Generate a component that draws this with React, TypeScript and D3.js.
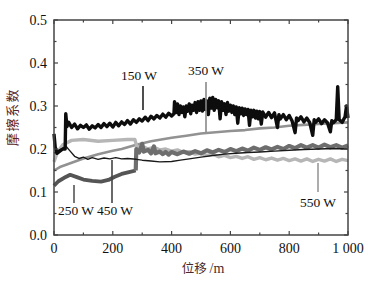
import React from "react";
import * as d3 from "d3";

const W = 374, H = 281;
const X_DOMAIN = [0, 1000];
const Y_DOMAIN = [0, 0.5];
const X_TICKS = [0, 200, 400, 600, 800, 1000];
const X_TICK_LABELS = ["0", "200", "400", "600", "800", "1 000"];
const Y_TICKS = [0, 0.1, 0.2, 0.3, 0.4, 0.5];
const Y_TICK_LABELS = ["0.0", "0.1", "0.2", "0.3", "0.4", "0.5"];
const X_LABEL_CN = "位移 ";
const X_LABEL_UNIT = "/m";
const Y_LABEL = "摩擦系数";

// 150 W (black, noisy)
const s150: [number, number][] = [
  [0, 0.235], [4, 0.205], [10, 0.19], [20, 0.195], [30, 0.2], [38, 0.2], [40, 0.282], [44, 0.252],
  [50, 0.262], [60, 0.25], [70, 0.258], [80, 0.247], [90, 0.255], [100, 0.25], [110, 0.256],
  [120, 0.246], [130, 0.254], [140, 0.249], [150, 0.257], [160, 0.25], [170, 0.259], [180, 0.252],
  [190, 0.26], [200, 0.251], [210, 0.262], [220, 0.254], [230, 0.263], [240, 0.257], [250, 0.266],
  [260, 0.258], [270, 0.268], [280, 0.262], [290, 0.27], [300, 0.265], [310, 0.274], [320, 0.266],
  [330, 0.276], [340, 0.27], [350, 0.278], [360, 0.272], [370, 0.281], [380, 0.274], [390, 0.283],
  [400, 0.277], [408, 0.282], [410, 0.31], [415, 0.285], [420, 0.305], [425, 0.28], [430, 0.3],
  [435, 0.285], [440, 0.298], [445, 0.275], [450, 0.3], [455, 0.288], [460, 0.305], [465, 0.282],
  [470, 0.302], [475, 0.29], [480, 0.308], [485, 0.285], [490, 0.31], [495, 0.29], [500, 0.312],
  [505, 0.288], [510, 0.315], [515, 0.292], [520, 0.312], [525, 0.28], [530, 0.318], [535, 0.295],
  [540, 0.32], [545, 0.29], [550, 0.315], [555, 0.296], [560, 0.312], [565, 0.27], [570, 0.31],
  [575, 0.29], [580, 0.305], [585, 0.28], [590, 0.308], [595, 0.288], [600, 0.302], [605, 0.285],
  [610, 0.3], [615, 0.28], [620, 0.298], [625, 0.26], [630, 0.296], [635, 0.282], [640, 0.295],
  [645, 0.278], [650, 0.293], [655, 0.28], [660, 0.292], [665, 0.255], [670, 0.29], [675, 0.275],
  [680, 0.29], [685, 0.272], [690, 0.288], [695, 0.27], [700, 0.287], [705, 0.258], [710, 0.286],
  [720, 0.274], [730, 0.285], [740, 0.273], [750, 0.284], [760, 0.25], [765, 0.28], [770, 0.27],
  [780, 0.28], [790, 0.268], [800, 0.278], [810, 0.265], [820, 0.238], [825, 0.272], [830, 0.266],
  [840, 0.275], [850, 0.263], [860, 0.272], [870, 0.261], [880, 0.232], [885, 0.268], [890, 0.262],
  [900, 0.27], [910, 0.259], [920, 0.268], [930, 0.261], [940, 0.24], [945, 0.266], [950, 0.261],
  [960, 0.268], [965, 0.345], [970, 0.268], [980, 0.262], [990, 0.275], [995, 0.3], [1000, 0.272],
];

// 350 W (mid gray, smooth rising)
const s350: [number, number][] = [
  [0, 0.15], [20, 0.158], [60, 0.168], [100, 0.178], [150, 0.188], [200, 0.196], [230, 0.2],
  [280, 0.21], [330, 0.218], [400, 0.226], [450, 0.231], [500, 0.236], [550, 0.239], [600, 0.242],
  [650, 0.244], [700, 0.248], [750, 0.25], [800, 0.254], [850, 0.256], [900, 0.258], [950, 0.26],
  [1000, 0.262],
];

// 550 W (light gray)
const s550: [number, number][] = [
  [0, 0.17], [10, 0.19], [30, 0.21], [60, 0.22], [100, 0.222], [150, 0.218], [200, 0.22],
  [250, 0.222], [275, 0.222], [282, 0.205], [300, 0.206], [320, 0.2], [340, 0.204], [360, 0.198],
  [380, 0.2], [400, 0.195], [420, 0.198], [440, 0.192], [460, 0.194], [480, 0.188], [500, 0.19],
  [520, 0.185], [540, 0.188], [560, 0.182], [580, 0.185], [600, 0.18], [620, 0.183], [640, 0.178],
  [660, 0.182], [680, 0.176], [700, 0.18], [720, 0.175], [740, 0.179], [760, 0.174], [780, 0.178],
  [800, 0.173], [820, 0.177], [840, 0.172], [860, 0.177], [880, 0.171], [900, 0.176], [920, 0.172],
  [940, 0.177], [960, 0.171], [980, 0.176], [1000, 0.173],
];

// 250 W (dark gray, thick): first segment, then noisy continuation
const s250: [number, number][] = [
  [0, 0.115], [15, 0.125], [40, 0.135], [55, 0.14], [80, 0.134], [100, 0.129], [130, 0.126],
  [160, 0.124], [185, 0.128], [205, 0.135], [230, 0.142], [255, 0.146], [278, 0.15], [280, 0.2],
  [290, 0.192], [300, 0.212], [305, 0.194], [320, 0.198], [330, 0.19], [340, 0.206], [345, 0.19],
  [360, 0.194], [370, 0.188], [380, 0.193], [390, 0.187], [400, 0.193], [420, 0.188], [440, 0.194],
  [460, 0.189], [480, 0.195], [500, 0.19], [520, 0.197], [540, 0.192], [560, 0.198], [580, 0.193],
  [600, 0.2], [620, 0.195], [640, 0.201], [660, 0.196], [680, 0.203], [700, 0.198], [720, 0.204],
  [740, 0.199], [760, 0.205], [780, 0.2], [800, 0.207], [820, 0.202], [840, 0.209], [860, 0.203],
  [880, 0.209], [900, 0.203], [920, 0.21], [940, 0.204], [960, 0.209], [980, 0.203], [1000, 0.208],
];

// 450 W (black, thin)
const s450: [number, number][] = [
  [0, 0.19], [10, 0.195], [25, 0.2], [40, 0.207], [55, 0.195], [70, 0.183], [85, 0.178],
  [100, 0.181], [115, 0.176], [130, 0.18], [150, 0.176], [170, 0.179], [190, 0.177], [210, 0.18],
  [230, 0.177], [250, 0.178], [280, 0.176], [300, 0.174], [330, 0.172], [360, 0.17], [400, 0.171],
  [430, 0.174], [460, 0.177], [500, 0.181], [540, 0.185], [580, 0.188], [620, 0.19], [660, 0.192],
  [700, 0.193], [750, 0.195], [800, 0.197], [850, 0.199], [900, 0.2], [950, 0.201], [1000, 0.2],
];

const LABELS = [
  { text: "150 W", tx: 139, ty: 80, x: 143, y1: 86, y2: 110, color: "#222" },
  { text: "350 W", tx: 206, ty: 75, x: 206, y1: 82, y2: 132, color: "#888" },
  { text: "250 W", tx: 76, ty: 215, x: 74, y1: 185, y2: 203, color: "#555" },
  { text: "450 W", tx: 115, ty: 215, x: 112, y1: 160, y2: 203, color: "#444" },
  { text: "550 W", tx: 318, ty: 207, x: 318, y1: 163, y2: 192, color: "#999" },
];

export default function App() {
  const x = d3.scaleLinear().domain(X_DOMAIN).range([54, 348]);
  const y = d3.scaleLinear().domain(Y_DOMAIN).range([235, 20]);
  const line = d3.line<[number, number]>().x(d => x(d[0])).y(d => y(d[1]));
  const serif = "'Liberation Serif', 'DejaVu Serif', serif";
  const cjk = "'Noto Sans CJK SC', sans-serif";
  const xMinor = d3.range(0, 1001, 100);
  const yMinor = d3.range(0, 0.501, 0.05);
  return (
    <svg width={W} height={H} style={{ position: "absolute", left: 0, top: 0, background: "#fff" }}>
      <g fill="none" strokeLinejoin="round">
        <path d={line(s350)!} stroke="#929292" strokeWidth={2.6} />
        <path d={line(s550)!} stroke="#b6b6b6" strokeWidth={3.4} />
        <path d={line(s250.slice(0, 13))!} stroke="#555" strokeWidth={3.8} />
        <path d={line(s250.slice(12))!} stroke="#6e6e6e" strokeWidth={4.2} />
        <path d={line(s450)!} stroke="#1a1a1a" strokeWidth={1.4} />
        <path d={line(s150)!} stroke="#0d0d0d" strokeWidth={3.4} />
      </g>
      {LABELS.map(l => (
        <g key={l.text}>
          <line x1={l.x} x2={l.x} y1={l.y1} y2={l.y2} stroke={l.color} strokeWidth={1.6} />
          <text x={l.tx} y={l.ty} textAnchor="middle" fontFamily={serif} fontSize={13.5} fill="#111">{l.text}</text>
        </g>
      ))}
      <rect x={54} y={20} width={294} height={215} fill="none" stroke="#444" strokeWidth={1.5} />
      {xMinor.map(v => {
        const major = v % 200 === 0;
        const len = major ? 4 : 2.5;
        return (
          <g key={"x" + v} stroke="#444" strokeWidth={1.2}>
            <line x1={x(v)} x2={x(v)} y1={235} y2={235 - len} />
            <line x1={x(v)} x2={x(v)} y1={20} y2={20 + len} />
          </g>
        );
      })}
      {yMinor.map((v, i) => {
        const major = i % 2 === 0;
        const len = major ? 4 : 2.5;
        return (
          <g key={"y" + i} stroke="#444" strokeWidth={1.2}>
            <line x1={54} x2={54 + len} y1={y(v)} y2={y(v)} />
            <line x1={348} x2={348 - len} y1={y(v)} y2={y(v)} />
          </g>
        );
      })}
      {X_TICKS.map((v, i) => (
        <text key={"xl" + v} x={x(v)} y={253} textAnchor="middle" fontFamily={serif} fontSize={14} fill="#111">{X_TICK_LABELS[i]}</text>
      ))}
      {Y_TICKS.map((v, i) => (
        <text key={"yl" + i} x={47} y={y(v) + 4.5} textAnchor="end" fontFamily={serif} fontSize={14} fill="#111">{Y_TICK_LABELS[i]}</text>
      ))}
      <text x={203} y={273} textAnchor="middle" fontSize={12.5} fill="#4a2a2a" fontFamily={cjk}>
        {X_LABEL_CN}<tspan fontFamily={serif} fontSize={14}>{X_LABEL_UNIT}</tspan>
      </text>
      <text transform={`translate(17,117) rotate(-90)`} textAnchor="middle" fontSize={13} fill="#5a2424" fontFamily={cjk} letterSpacing={1.5}>{Y_LABEL}</text>
    </svg>
  );
}
